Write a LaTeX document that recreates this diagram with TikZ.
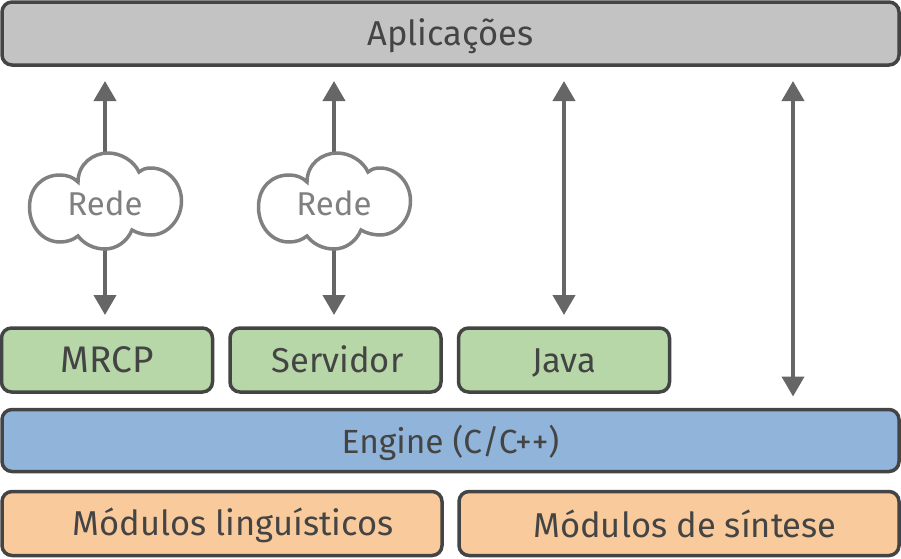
\documentclass[tikz,border=0pt]{standalone}
\usepackage{fontspec}
\setmainfont{Fira Sans}
\usetikzlibrary{positioning, calc, arrows.meta}
\tikzset{>={Triangle[width=22pt,length=20pt]}}
\definecolor{caixa}{HTML}{444444}
\definecolor{seta}{HTML}{666666}
\definecolor{cinza}{HTML}{C3C3C3}
\definecolor{verde}{HTML}{B7D7A8}
\definecolor{azul}{HTML}{91B5DA}
\definecolor{laranja}{HTML}{F9CB9C}
\newcommand{\tam}[1]{\fontsize{#1}{#1}\selectfont}

\begin{document}
\begin{tikzpicture}
    [
        x=1pt, y=-1pt,
        box_node/.style={rectangle, rounded corners=10pt, draw=caixa, line width=3.5pt, text=caixa, inner sep=0pt, outer sep=0pt, minimum height=#1, text height=24.5pt, text depth=0pt, font=\tam{34.5}},
        app_node/.style={box_node=63pt, fill=cinza, minimum width=897pt},
        green_node/.style={box_node=64pt, fill=verde, minimum width=211pt},
        engine_node/.style={box_node=62pt, fill=azul, minimum width=897pt},
        orange_node/.style={box_node=64pt, fill=laranja, minimum width=440pt},
        cloud_node/.style={inner sep=0pt, outer sep=0pt, minimum width=154pt, minimum height=97pt, text=black!50},
        link/.style={<->, draw=seta, fill=seta, line width=4pt},
        nuvem/.pic={
            \draw[draw=black!50, fill=white, line width=3.5pt]
                (-27,-19) .. controls (-27,-37) and (-12,-48) .. (3,-48)
                .. controls (16,-48) and (29,-40) .. (34,-29)
                .. controls (38,-32) and (41,-33) .. (46,-33)
                .. controls (63,-33) and (76.5,-18) .. (76.5,0)
                .. controls (76.5,18) and (63,34) .. (46,34)
                .. controls (39,34) and (32,32) .. (27,29)
                .. controls (22,41) and (11,48) .. (0,48)
                .. controls (-11,48) and (-21,43) .. (-27,35)
                .. controls (-32,39) and (-38,41) .. (-45,41)
                .. controls (-62,41) and (-75.5,26) .. (-75.5,6)
                .. controls (-75.5,-14) and (-62,-26) .. (-45,-26)
                .. controls (-38,-26) and (-32,-24) .. (-27,-19) -- cycle;
        },
    ]

  \useasboundingbox (0,0) rectangle (901,558);

  \node[app_node, text height=23pt] (aplic) at (450.5,33.5) {Aplicações};
  \node[green_node, font=\tam{37}] (mrcp) at (107,360) {MRCP};
  \node[green_node] (servidor) at (335.5,360) {\hspace{4pt}Servidor};
  \node[green_node] (java) at (564,360) {Java};
  \node[engine_node, font=\tam{33.5}, text height=26pt] (engine) at (450.5,440.5) {Engine (C/C++)\hspace{3pt}};
  \node[orange_node, text height=23pt] (linguisticos) at (222,523.5) {\hspace{22pt}Módulos linguísticos};
  \node[orange_node, text height=27pt] (sintese) at (679,523.5) {\hspace{12pt}Módulos de síntese};

  \coordinate (livre) at (793,238);
  \node[cloud_node] (rede1) at (105,201) {};
  \node[cloud_node] (rede2) at (334,201) {};

  \draw[link, -{>}, shorten >=13pt] (rede1.south) -- (rede1.south |- mrcp.north);
  \draw[link, -{>}, shorten >=16pt] (rede1.north) -- (rede1.north |- aplic.south);
  \draw[link, -{>}, shorten >=13pt] (rede2.south) -- (rede2.south |- servidor.north);
  \draw[link, -{>}, shorten >=16pt] (rede2.north) -- (rede2.north |- aplic.south);
  \draw[link, shorten <=13pt, shorten >=16pt] (java.north) -- (java.north |- aplic.south);
  \draw[link, shorten <=13pt, shorten >=16pt] (livre |- engine.north) -- (livre |- aplic.south);

  \pic at (rede1) {nuvem};
  \pic at (rede2) {nuvem};
  \node[text=black!50, font=\tam{33}] (rotulo1) at (105,203) {Rede};
  \node[text=black!50, font=\tam{33}] (rotulo2) at (334,203) {Rede};
\end{tikzpicture}
\end{document}
